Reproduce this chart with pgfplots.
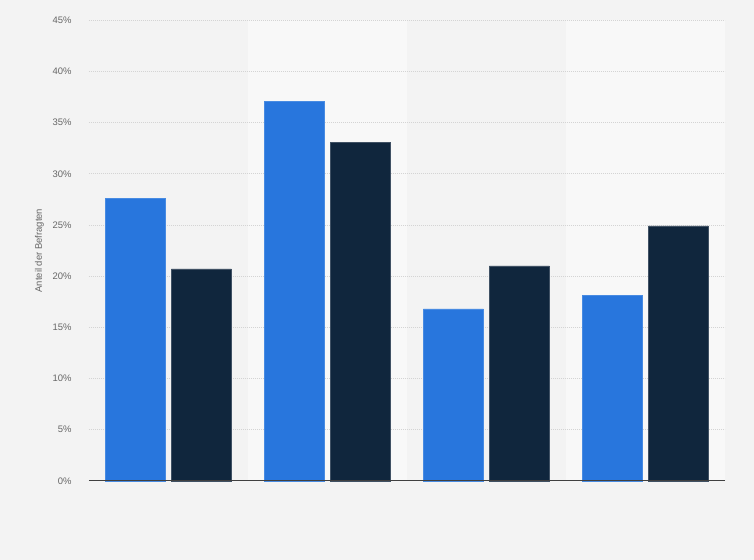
\documentclass[border=0pt]{standalone}
\usepackage{pgfplots}
\pgfplotsset{compat=1.18}
\usepackage{fontspec}
\setmainfont{Liberation Sans}
\definecolor{bg}{HTML}{F3F3F3}
\definecolor{band}{HTML}{F8F8F8}
\definecolor{sblue}{HTML}{2876DD}
\definecolor{sdark}{HTML}{10263D}
\definecolor{tick}{HTML}{666666}
\definecolor{gridc}{HTML}{D4D4D4}
\begin{document}
\begin{tikzpicture}
% background and bounding box (axis south west at origin)
\fill[bg] (-88.8bp,-79.2bp) rectangle (665.2bp,480.8bp);
\path[use as bounding box] (-88.8bp,-79.2bp) rectangle (665.2bp,480.8bp);
% alternating column bands
\fill[band] (159bp,0) rectangle (318bp,460.5bp);
\fill[band] (477bp,0) rectangle (636bp,460.5bp);
\begin{axis}[
  at={(0,0)}, anchor=south west,
  scale only axis,
  width=636bp, height=460.5bp,
  xmin=-0.5, xmax=3.5,
  ymin=0, ymax=45,
  ytick={0,5,...,45},
  xtick=\empty,
  axis x line*=bottom,
  axis y line*=left,
  axis line style={draw=none},
  ymajorgrids,
  major grid style={gridc, line width=0.6bp, dash pattern=on 1bp off 1bp},
  major tick length=0pt,
  yticklabel={\pgfmathprintnumber{\tick}\%},
  /pgf/number format/assume math mode=true,
  yticklabel style={font=\fontsize{9.5}{11}\selectfont, text=tick, anchor=east, inner sep=0pt, xshift=-17bp},
  ylabel={Anteil der Befragten},
  ylabel style={at={(axis description cs:-0.0778,0.5)}, anchor=center, font=\fontsize{9.5}{11}\selectfont, text=tick},
  clip=false,
]
\addplot[ybar, bar width=60bp, bar shift=-33bp, fill=sblue, draw=sblue!85!white, line width=0.4bp]
  coordinates {(0,27.6) (1,37.1) (2,16.8) (3,18.1)};
\addplot[ybar, bar width=60bp, bar shift=33bp, fill=sdark, draw=sdark!80!white, line width=0.4bp]
  coordinates {(0,20.7) (1,33.1) (2,21.0) (3,24.9)};
\draw[black!75, line width=1.2bp] (axis cs:-0.5,0) -- (axis cs:3.5,0);
\end{axis}
\end{tikzpicture}
\end{document}
